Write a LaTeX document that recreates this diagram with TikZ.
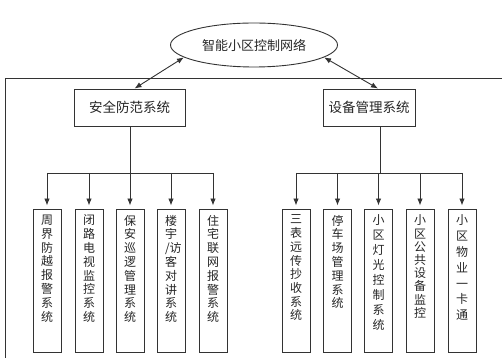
\documentclass[tikz,border=0pt]{standalone}
\usepackage{fontspec}
\newfontfamily\cjk{Noto Sans CJK SC}
\usetikzlibrary{positioning, arrows.meta, shapes.geometric}

\newcommand\vlabel[2]{\parbox[c][135pt][t]{12pt}{\vspace*{2pt}\centering\fontsize{12}{#1}\selectfont #2}}

\begin{document}
\begin{tikzpicture}[x=1pt, y=1pt, >={Latex[length=7pt,width=5.5pt]}, line width=0.9pt,
    draw=black!80, every node/.style={font=\cjk, text=black!85},
    sys/.style={draw, minimum height=37pt, inner sep=0pt, font=\cjk\fontsize{13.5}{15}\selectfont},
    sub/.style={draw, inner xsep=8pt, inner ysep=4pt}]
    \useasboundingbox (0,0) rectangle (502,358);

    % outer frame
    \draw (502,280) -- (5,280) -- (5,0);

    \node[ellipse, draw, minimum width=167pt, minimum height=44pt, inner sep=0pt,
          font=\cjk\fontsize{13}{15}\selectfont] (net) at (254,313) {智能小区控制网络};
    \node[sys, minimum width=111pt] (safety) at (129.5,250.5) {安全防范系统};
    \node[sys, minimum width=92pt] (device) at (369,250.5) {设备管理系统};

    \draw[<->] (net.190) -- ([xshift=5pt]safety.north);
    \draw[<->] (net.-10) -- ([xshift=9pt]device.north);

    % bus lines
    \coordinate (lbus) at (130,185);
    \coordinate (rbus) at (380,185);
    \draw (safety.south -| lbus) -- (lbus);
    \draw (device.south -| rbus) -- (rbus);

    % left subsystems
    \foreach \i/\x/\p/\t in {1/47/13.8/{周\\界\\防\\越\\报\\警\\系\\统},
                             2/89/13.8/{闭\\路\\电\\视\\监\\控\\系\\统},
                             3/130/13.8/{保\\安\\巡\\逻\\管\\理\\系\\统},
                             4/171/13.8/{楼\\宇\\/访\\客\\对\\讲\\系\\统},
                             5/213/13.8/{住\\宅\\联\\网\\报\\警\\系\\统}}{
      \node[sub] (l\i) at (\x,77.5) {\vlabel{\p}{\t}};
      \draw[->, shorten >=3pt] (l\i |- lbus) -- (l\i.north);
    }
    \draw (l1 |- lbus) -- (l5 |- lbus);

    % right subsystems
    \foreach \i/\x/\p/\t in {1/296/13.7/{三\\表\\远\\传\\抄\\收\\系\\统},
                             2/337.5/13.8/{停\\车\\场\\管\\理\\系\\统},
                             3/378.5/15/{小\\区\\灯\\光\\控\\制\\系\\统},
                             4/420/13.2/{小\\区\\公\\共\\设\\备\\监\\控},
                             5/462/15.8/{小\\区\\物\\业\\一\\卡\\通}}{
      \node[sub] (r\i) at (\x,77.5) {\vlabel{\p}{\t}};
      \draw[->, shorten >=3pt] (r\i |- rbus) -- (r\i.north);
    }
    \draw (r1 |- rbus) -- (r5 |- rbus);
\end{tikzpicture}
\end{document}
